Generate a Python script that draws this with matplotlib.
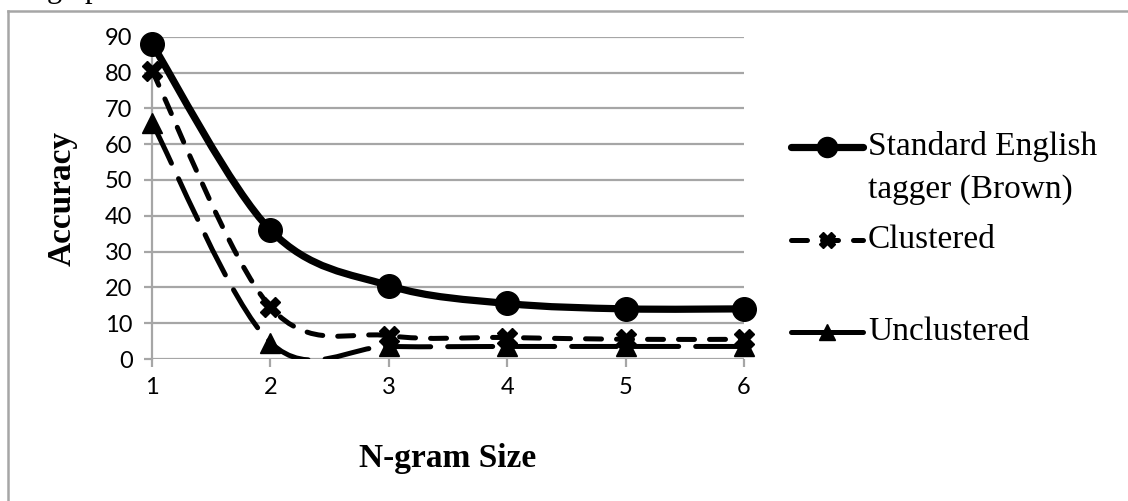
import numpy as np
import matplotlib
matplotlib.use("Agg")
import matplotlib.pyplot as plt
from matplotlib.path import Path
from matplotlib.patches import PathPatch
from matplotlib.lines import Line2D

# ===== data =====
ngram = [1, 2, 3, 4, 5, 6]
standard = [88, 36, 20.5, 15.5, 14, 14]
clustered = [80.5, 14.5, 6.5, 6, 5.5, 5.5]
unclustered = [66, 4.6, 3.5, 3.5, 3.5, 3.5]
labels = ["Standard English\ntagger (Brown)", "Clustered", "Unclustered"]
yticks = [0, 10, 20, 30, 40, 50, 60, 70, 80, 90]

W, H = 1128, 501
SERIF = "Liberation Serif"
SANS = "Lato"
GRID = "#a6a6a6"


def smooth_path(x, y):
    # Excel-like smoothed line: cubic Bezier through every point
    x = np.asarray(x, float)
    y = np.asarray(y, float)
    pts = np.column_stack([x, y])
    n = len(pts)
    verts = [pts[0]]
    codes = [Path.MOVETO]
    for i in range(n - 1):
        p0 = pts[i - 1] if i > 0 else pts[i]
        p1 = pts[i]
        p2 = pts[i + 1]
        p3 = pts[i + 2] if i + 2 < n else pts[i + 1]
        c1 = p1 + (p2 - p0) / 6.0
        c2 = p2 - (p3 - p1) / 6.0
        verts += [c1, c2, p2]
        codes += [Path.CURVE4] * 3
    return Path(verts, codes)


fig = plt.figure(figsize=(W / 100, H / 100), dpi=100)
ax = fig.add_axes([152 / W, 142 / H, (744 - 152) / W, (464.3 - 142) / H])

styles = [
    dict(lw=5.2, ls="-", marker="o", ms=17),
    dict(lw=3.6, ls=(0, (3.2, 3.0)), marker="X", ms=14),
    dict(lw=3.6, ls=(0, (9.0, 3.4)), marker="^", ms=14),
]
series = [standard, clustered, unclustered]

for vals, st in zip(series, styles):
    patch = PathPatch(smooth_path(ngram, vals), facecolor="none", edgecolor="black",
                      lw=st["lw"], linestyle=st["ls"], capstyle="round",
                      joinstyle="round", zorder=3)
    ax.add_patch(patch)
    ax.plot(ngram, vals, linestyle="none", marker=st["marker"], ms=st["ms"],
            color="black", mec="black", clip_on=False, zorder=4)

ax.set_xlim(1, 6)
ax.set_ylim(0, 90)
ax.set_xticks(ngram)
ax.set_yticks(yticks)
ax.grid(axis="y", color=GRID, lw=1.6)
ax.set_axisbelow(True)
for side in ["top", "right", "bottom"]:
    ax.spines[side].set_visible(False)
ax.spines["left"].set_color(GRID)
ax.spines["left"].set_linewidth(1.6)
ax.tick_params(axis="both", colors=GRID, width=1.6, length=6, direction="out")
ax.tick_params(axis="y", pad=8)
ax.tick_params(axis="x", pad=7)
for lab in ax.get_xticklabels() + ax.get_yticklabels():
    lab.set_fontfamily(SANS)
    lab.set_fontsize(17)
    lab.set_color("black")

fig.text(62 / W, 1 - 198 / H, "Accuracy", rotation=90, ha="center", va="center",
         family=SERIF, fontweight="bold", fontsize=24)
fig.text(448 / W, 1 - 458 / H, "N-gram Size", ha="center", va="center",
         family=SERIF, fontweight="bold", fontsize=24)

# cut-off caption text at the very top
fig.text(47 / W, 1 + 3 / H, "graph", ha="left", va="baseline", family=SERIF, fontsize=22)

# frame of the chart area (only top and left edges fall inside the image)
fig.add_artist(Line2D([8 / W, 1], [1 - 11 / H, 1 - 11 / H], transform=fig.transFigure,
                      color=GRID, lw=1.8))
fig.add_artist(Line2D([8 / W, 8 / W], [0, 1 - 11 / H], transform=fig.transFigure,
                      color=GRID, lw=1.8))

# legend drawn by hand to match the uneven Excel spacing
leg_rows = [147, 240, 332]
for lab, st, yy in zip(labels, styles, leg_rows):
    yf = 1 - yy / H
    ls = st["ls"] if st["marker"] != "^" else "-"
    fig.add_artist(Line2D([791 / W, 863 / W], [yf, yf], transform=fig.transFigure,
                          color="black", lw=st["lw"], linestyle=ls,
                          dash_capstyle="round", solid_capstyle="round"))
    fig.add_artist(Line2D([827 / W], [yf], transform=fig.transFigure, color="black",
                          marker=st["marker"], ms=st["ms"] * 0.85, linestyle="none"))
    if "\n" in lab:
        first, second = lab.split("\n")
        fig.text(868 / W, yf, first, ha="left", va="center", family=SERIF, fontsize=24)
        fig.text(868 / W, 1 - 190 / H, second, ha="left", va="center", family=SERIF,
                 fontsize=24)
    else:
        fig.text(868 / W, yf, lab, ha="left", va="center", family=SERIF, fontsize=24)

fig.savefig("out.png", dpi=100)
plt.close(fig)
